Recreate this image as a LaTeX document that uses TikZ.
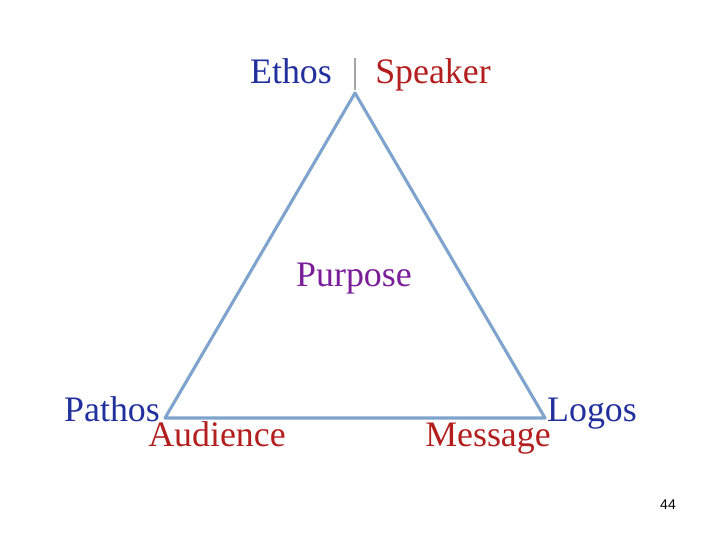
\documentclass[tikz,border=0pt]{standalone}
\usepackage{fontspec}
\setmainfont{Liberation Serif}
\newfontfamily\pagefont{Liberation Sans}
\usetikzlibrary{calc}
\definecolor{ethosblue}{HTML}{22309E}
\definecolor{speakred}{HTML}{B31E1E}
\definecolor{purpviolet}{HTML}{7A1E9A}
\definecolor{edgeblue}{HTML}{7EA3CC}
\begin{document}
\begin{tikzpicture}[
	x=0.025cm, y=-0.025cm,
	every node/.style={
		inner sep=0pt,
		font=\fontsize{25.5}{30}\selectfont
	},
	greek/.style={text=ethosblue, anchor=base},
	role/.style={text=speakred, anchor=base},
	side/.style={draw=edgeblue, line width=2.2pt, line join=round}
]
\useasboundingbox (0,0) rectangle (720,540);
\coordinate (apex) at (355,93);
\coordinate (left) at (165,418);
\coordinate (right) at (545,418);

\draw[side] (apex) -- (right) -- (left) -- cycle;

\node[greek] (ethos) at (291,83) {Ethos};
\node[role] (speaker) at (433,83) {Speaker};
\draw[gray!70, line width=1pt] (355,58) -- (355,90);

\node[text=purpviolet, anchor=base] (purpose) at (354,286) {Purpose};

\node[greek] (pathos) at (112,421) {Pathos};
\node[role] (audience) at (217,446) {Audience};
\node[role] (message) at (488,446) {Message};
\node[greek] (logos) at (592,421) {Logos};

\node[font=\pagefont\fontsize{10}{12}\selectfont, anchor=base] (page) at (668,509) {44};
\end{tikzpicture}
\end{document}
